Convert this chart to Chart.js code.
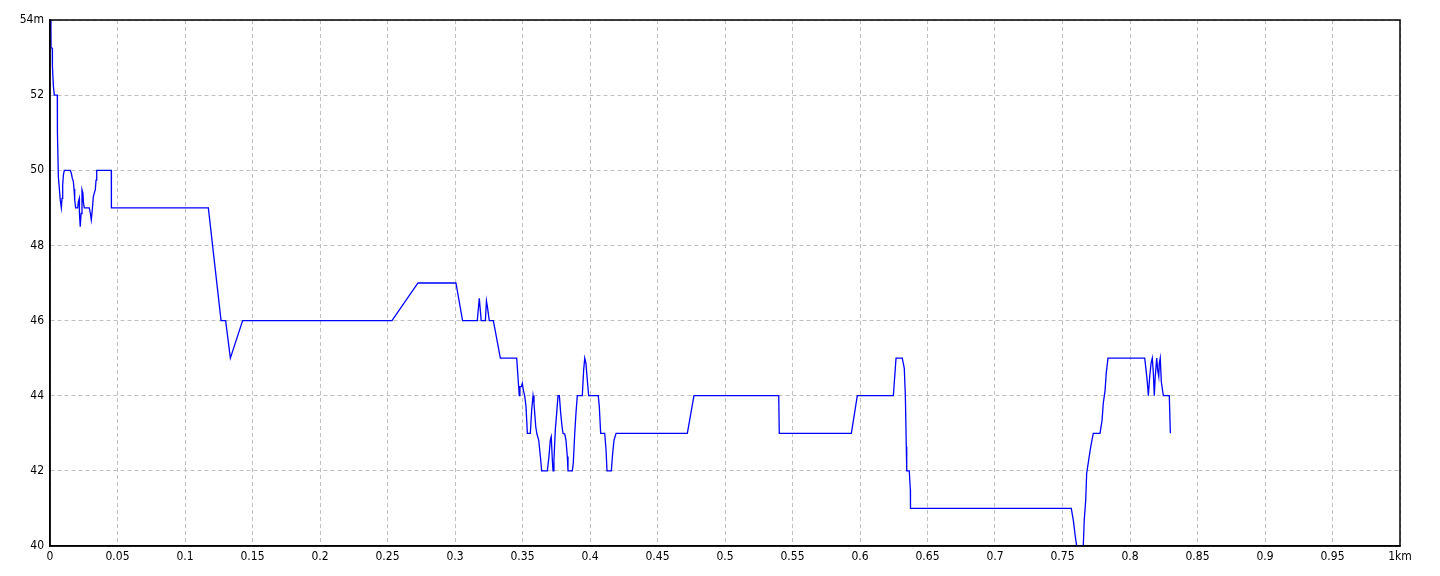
<!DOCTYPE html>
<html>
<head>
<meta charset="utf-8">
<script src="https://cdn.jsdelivr.net/npm/chart.js@4/dist/chart.umd.min.js"></script>
<style>
  html, body { margin: 0; padding: 0; background: #fff; }
  #wrap { width: 1440px; height: 576px; }
</style>
</head>
<body>
<div id="wrap"><canvas id="profile" width="1440" height="576"></canvas></div>
<script>
const distKm = [
  0, 0.0007, 0.0008, 0.0017, 0.0018, 0.0025, 0.0032, 0.0054, 0.0055, 0.0062,
  0.0069, 0.0076, 0.0084, 0.0089, 0.0094, 0.0099, 0.0106, 0.0150, 0.0158, 0.0165,
  0.0173, 0.0178, 0.0183, 0.0190, 0.0205, 0.0210, 0.0217, 0.0218, 0.0224, 0.0230,
  0.0237, 0.0244, 0.0247, 0.0254, 0.0291, 0.0299, 0.0306, 0.0313, 0.0321, 0.0336,
  0.0341, 0.0346, 0.0454, 0.0455, 0.1173, 0.1267, 0.1301, 0.1336, 0.1427, 0.2533,
  0.2726, 0.3007, 0.3056, 0.3165, 0.3180, 0.3194, 0.3225, 0.3233, 0.3239, 0.3254,
  0.3284, 0.3336, 0.3457, 0.3476, 0.3481, 0.3491, 0.3499, 0.3506, 0.3516, 0.3526,
  0.3536, 0.3558, 0.3568, 0.3578, 0.3585, 0.3598, 0.3607, 0.3620, 0.3635, 0.3642,
  0.3684, 0.3696, 0.3706, 0.3713, 0.3721, 0.3726, 0.3733, 0.3743, 0.3753, 0.3763,
  0.3773, 0.3783, 0.3793, 0.3800, 0.3813, 0.3822, 0.3832, 0.3837, 0.3869, 0.3876,
  0.3887, 0.3896, 0.3906, 0.3943, 0.3953, 0.3961, 0.3970, 0.3980, 0.3990, 0.4061,
  0.4069, 0.4079, 0.4109, 0.4119, 0.4126, 0.4158, 0.4168, 0.4178, 0.4193, 0.4721,
  0.4770, 0.5398, 0.5402, 0.5936, 0.5980, 0.6247, 0.6267, 0.6313, 0.6328, 0.6336,
  0.6343, 0.6346, 0.6365, 0.6373, 0.6374, 0.7565, 0.7580, 0.7595, 0.7605, 0.7654,
  0.7661, 0.7672, 0.7679, 0.7694, 0.7709, 0.7728, 0.7778, 0.7793, 0.7802, 0.7815,
  0.7824, 0.7837, 0.8109, 0.8119, 0.8128, 0.8136, 0.8146, 0.8156, 0.8165, 0.8173,
  0.8180, 0.8187, 0.8198, 0.8205, 0.8213, 0.8217, 0.8224, 0.8232, 0.8247, 0.8291,
  0.8299
];
const altM = [
  54.0, 53.73, 53.26, 53.25, 52.76, 52.24, 52.0, 52.0, 51.0, 49.83,
  49.52, 49.21, 49.0, 49.25, 49.6, 49.87, 50.0, 50.0, 49.92, 49.79,
  49.7, 49.5, 49.21, 49.0, 49.0, 49.16, 49.25, 48.85, 48.5, 48.85,
  49.48, 49.39, 49.16, 49.0, 49.0, 48.85, 48.68, 48.94, 49.3, 49.49,
  49.74, 50.0, 50.0, 49.0, 49.0, 46.0, 46.0, 45.0, 46.0, 46.0,
  47.0, 47.0, 46.0, 46.0, 46.59, 46.0, 46.0, 46.52, 46.39, 46.0,
  46.0, 45.0, 45.0, 44.0, 44.24, 44.24, 44.33, 44.15, 44.0, 43.71,
  43.0, 43.0, 43.62, 44.0, 43.8, 43.18, 42.98, 42.82, 42.29, 42.0,
  42.0, 42.38, 42.82, 42.91, 42.29, 42.0, 42.29, 43.09, 43.53, 44.0,
  44.0, 43.53, 43.18, 43.0, 42.98, 42.82, 42.38, 42.0, 42.0, 42.2,
  43.0, 43.53, 44.0, 44.0, 44.68, 45.0, 44.86, 44.42, 44.0, 44.0,
  43.71, 43.0, 43.0, 42.55, 42.0, 42.0, 42.47, 42.82, 43.0, 43.0,
  44.0, 44.0, 43.0, 43.0, 44.0, 44.0, 45.0, 45.0, 44.73, 44.0,
  42.64, 42.0, 42.0, 41.49, 41.0, 41.0, 40.69, 40.25, 40.0, 40.0,
  40.69, 41.22, 41.93, 42.29, 42.64, 43.0, 43.0, 43.35, 43.8, 44.13,
  44.6, 45.0, 45.0, 44.68, 44.37, 44.0, 44.51, 44.86, 45.0, 44.6,
  44.0, 44.51, 45.0, 44.68, 44.51, 44.86, 45.0, 44.37, 44.0, 44.0,
  43.0
];

const xMin = 0, xMax = 1, xStep = 0.05;
const yMin = 40, yMax = 54, yStep = 2;

const points = distKm.map((d, i) => ({ x: d, y: altM[i] }));

// Marco negro alrededor del área del gráfico
const frame = {
  id: "frame",
  afterDraw(chart) {
    const { ctx, chartArea: a } = chart;
    ctx.save();
    ctx.strokeStyle = "#000";
    ctx.lineWidth = 1.5;
    ctx.strokeRect(a.left, a.top, a.right - a.left, a.bottom - a.top);
    ctx.restore();
  }
};

const fontCfg = { family: "'Liberation Sans Narrow', 'DejaVu Sans Condensed', sans-serif", size: 12 };

new Chart(document.getElementById("profile").getContext("2d"), {
  type: "scatter",
  data: {
    datasets: [{
      data: points,
      showLine: true,
      borderColor: "#0000ff",
      borderWidth: 1.3,
      pointRadius: 0,
      tension: 0
    }]
  },
  options: {
    responsive: false,
    animation: false,
    layout: { padding: { left: 0, right: 40, top: 20, bottom: 0 } },
    plugins: { legend: { display: false }, tooltip: { enabled: false } },
    scales: {
      x: {
        type: "linear",
        min: xMin, max: xMax,
        afterFit(s) { s.height = 30; },
        ticks: {
          stepSize: xStep,
          color: "#000",
          font: fontCfg,
          padding: 4,
          maxRotation: 0,
          autoSkip: false,
          callback: v => {
            const t = String(Number(v.toFixed(2)));
            return v >= xMax - 1e-9 ? t + "km" : t;
          }
        },
        grid: { color: "#c0c0c0", drawTicks: false, tickLength: 0 },
        border: { display: true, color: "#000", width: 1.5, dash: [4, 3] }
      },
      y: {
        type: "linear",
        min: yMin, max: yMax,
        afterFit(s) { s.width = 50; },
        ticks: {
          stepSize: yStep,
          color: "#000",
          font: fontCfg,
          padding: 6,
          callback: v => (v >= yMax ? v + "m" : String(v))
        },
        grid: { color: "#c0c0c0", drawTicks: false, tickLength: 0 },
        border: { display: true, color: "#000", width: 1.5, dash: [4, 3] }
      }
    }
  },
  plugins: [frame]
});
</script>
</body>
</html>
